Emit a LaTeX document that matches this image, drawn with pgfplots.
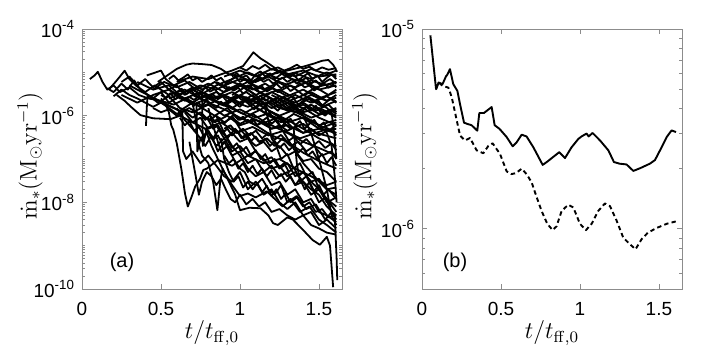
\documentclass[border=0pt]{standalone}
\usepackage[no-math]{fontspec}
\usepackage{pgfplots}
\pgfplotsset{compat=1.18}
\newfontfamily\helv{Liberation Sans}

\pgfplotsset{
  mypanel/.style={
    scale only axis, width=130pt, height=130pt,
    xmin=0, xmax=1.646,
    xtick={0,0.5,1,1.5}, xticklabels={0,0.5,1,1.5},
    tick label style={font=\helv\fontsize{9.5}{11}\selectfont},
    xticklabel style={yshift=-3pt},
    yticklabel style={xshift=0pt},
    axis line style={black!45}, tick style={black!45, line width=0.4pt},
    major tick length=2.5pt, minor tick length=1.5pt,
    label style={font=\fontsize{12}{14}\selectfont},
    xlabel={$t/t_{\mathrm{ff},0}$},
    x label style={at={(axis description cs:0.5,-0.17)}, anchor=center},
    ylabel={$\dot{\mathrm{m}}_{*}(\mathrm{M}_{\odot}\mathrm{yr}^{-1})$},
    cycle list={{black}},
  },
}

\begin{document}
\begin{tikzpicture}

% ---------- (a) ----------
\begin{semilogyaxis}[mypanel, at={(41pt,33pt)}, anchor=south west,
    ymin=1e-10, ymax=1e-4,
    ytick={1e-10,1e-8,1e-6,1e-4},
    yticklabels={10\textsuperscript{-10},10\textsuperscript{-8},10\textsuperscript{-6},10\textsuperscript{-4}},
    minor ytick={2e-10,3e-10,4e-10,5e-10,6e-10,7e-10,8e-10,9e-10,1e-9,2e-9,3e-9,4e-9,5e-9,6e-9,7e-9,8e-9,9e-9,
                 2e-8,3e-8,4e-8,5e-8,6e-8,7e-8,8e-8,9e-8,1e-7,2e-7,3e-7,4e-7,5e-7,6e-7,7e-7,8e-7,9e-7,
                 2e-6,3e-6,4e-6,5e-6,6e-6,7e-6,8e-6,9e-6,1e-5,2e-5,3e-5,4e-5,5e-5,6e-5,7e-5,8e-5,9e-5},
    y label style={at={(axis description cs:-0.2,0.513)}, anchor=center},
    every axis plot post/.append style={black, line width=0.9pt, line join=round},
  ]
\addplot coordinates {(0.05,7e-6)(0.08,8.5e-6)(0.10,1.03e-5)(0.13,6e-6)(0.16,4e-6)(0.20,5e-6)(0.24,3.5e-6)(0.30,4.5e-6)(0.36,3e-6)(0.42,2.5e-6)(0.50,2.2e-6)(0.58,1.8e-6)(0.66,2.5e-6)(0.75,1.6e-6)(0.85,2.2e-6)(0.95,1.5e-6)(1.05,2.5e-6)(1.15,1.8e-6)(1.25,2.8e-6)(1.35,2e-6)(1.45,3e-6)(1.55,2.2e-6)(1.61,2.6e-6)};
\addplot coordinates {(0.17,4e-6)(0.22,6.5e-6)(0.27,1.09e-5)(0.30,7e-6)(0.34,5e-6)(0.40,3.5e-6)(0.46,5e-6)(0.55,3e-6)(0.65,4e-6)(0.75,2.5e-6)(0.85,3.5e-6)(0.95,2.2e-6)(1.05,1.6e-6)(1.15,2.5e-6)(1.25,1.5e-6)(1.35,1.2e-6)(1.45,1.8e-6)(1.55,1.1e-6)(1.61,1.4e-6)};
\addplot coordinates {(0.16,4.3e-6)(0.20,3.5e-6)(0.25,5.5e-6)(0.29,4e-6)(0.33,6.5e-6)(0.37,4e-6)(0.42,3e-6)(0.48,2e-6)(0.55,2.8e-6)(0.62,1.5e-6)(0.70,1.2e-6)(0.80,1.8e-6)(0.90,1e-6)(1.00,1.4e-6)(1.10,9e-7)(1.20,1.2e-6)(1.30,7e-7)(1.40,9e-7)(1.50,6e-7)(1.61,8e-7)};
\addplot coordinates {(0.22,3e-6)(0.27,2.2e-6)(0.31,1.6e-6)(0.37,1.03e-6)(0.45,8.7e-7)(0.56,8.3e-7)(0.62,1e-6)(0.70,7e-7)(0.78,5e-7)(0.88,7e-7)(0.98,4e-7)(1.08,5.5e-7)(1.18,3.5e-7)(1.28,4.5e-7)(1.38,3e-7)(1.48,4e-7)(1.61,3e-7)};
\addplot coordinates {(0.405,5.8e-7)(0.41,1.5e-6)(0.415,3e-6)(0.45,2.5e-6)(0.50,3.5e-6)(0.55,2e-6)(0.62,2.8e-6)(0.70,1.8e-6)(0.80,2.5e-6)(0.90,1.7e-6)(1.00,2.8e-6)(1.10,1.6e-6)(1.20,2.2e-6)(1.30,1.3e-6)(1.40,1.8e-6)(1.50,1.1e-6)(1.61,1.5e-6)};
\addplot coordinates {(0.41,8.5e-6)(0.45,9.5e-6)(0.50,1.1e-5)(0.53,7e-6)(0.58,5e-6)(0.65,6.5e-6)(0.72,4e-6)(0.80,5.5e-6)(0.90,3.5e-6)(1.00,5e-6)(1.10,3e-6)(1.20,4.5e-6)(1.30,2.8e-6)(1.40,4e-6)(1.50,2.5e-6)(1.61,3.5e-6)};
\addplot coordinates {(0.48,6e-6)(0.53,8e-6)(0.60,1.2e-5)(0.66,1.5e-5)(0.70,1.6e-5)(0.76,1.55e-5)(0.82,1.48e-5)(0.88,1.2e-5)(0.93,9e-6)(1.00,8e-6)(1.08,6e-6)(1.18,8e-6)(1.28,5e-6)(1.38,7e-6)(1.48,4.5e-6)(1.61,6e-6)};
\addplot coordinates {(0.60,6e-6)(0.70,8e-6)(0.80,7e-6)(0.88,9e-6)(0.95,1.1e-5)(1.02,1.4e-5)(1.06,2.2e-5)(1.085,2.9e-5)(1.10,2.6e-5)(1.13,2.1e-5)(1.17,1.7e-5)(1.21,1.35e-5)(1.27,9e-6)(1.33,7e-6)(1.40,6e-6)(1.50,4e-6)(1.61,5e-6)};
\addplot coordinates {(0.90,5e-6)(1.00,7e-6)(1.10,6e-6)(1.20,9e-6)(1.30,1.1e-5)(1.40,1.35e-5)(1.47,1.6e-5)(1.52,1.85e-5)(1.56,1.93e-5)(1.59,1.5e-5)(1.615,1.03e-5)};
\addplot coordinates {(0.75,3e-6)(0.85,5e-6)(0.95,7e-6)(1.05,1e-5)(1.15,7e-6)(1.25,1.1e-5)(1.35,8e-6)(1.45,1.2e-5)(1.55,9e-6)(1.61,1.1e-5)};
\addplot coordinates {(0.55,2.5e-6)(0.65,3.5e-6)(0.75,5e-6)(0.85,4e-6)(0.95,6e-6)(1.05,4.5e-6)(1.15,1e-5)(1.25,7e-6)(1.35,9.5e-6)(1.45,7e-6)(1.55,1e-5)(1.61,8e-6)};
\addplot coordinates {(0.50,2.5e-6)(0.53,1.8e-6)(0.55,1.2e-6)(0.565,6e-7)(0.578,4.7e-7)(0.60,2.3e-7)(0.63,5.6e-8)(0.652,1.6e-8)(0.67,8e-9)(0.694,1.35e-8)(0.716,2.3e-8)(0.747,3.5e-8)(0.768,5.6e-8)(0.79,6e-8)(0.86,9.5e-8)(0.95,7e-8)(1.05,1.2e-7)(1.15,8e-8)(1.25,1e-7)(1.35,6e-8)(1.45,4e-8)(1.55,2.5e-8)(1.61,3e-8)};
\addplot coordinates {(0.70,2e-6)(0.72,8e-7)(0.735,2.5e-7)(0.76,1.2e-7)(0.80,8e-8)(0.83,3e-8)(0.857,6.6e-9)(0.875,3e-8)(0.89,6e-8)(0.93,3e-8)(0.97,1.5e-8)(1.00,6.6e-9)(1.06,7.5e-9)(1.13,7.3e-9)(1.18,5e-9)(1.21,3.3e-9)(1.24,3e-9)(1.30,4.5e-9)(1.335,4e-9)(1.40,2.3e-9)(1.46,1.35e-9)(1.506,1.05e-9)(1.55,1.6e-9)(1.57,1e-9)(1.59,1.1e-10)};
\addplot coordinates {(0.78,5e-7)(0.82,2e-7)(0.86,1e-7)(0.90,5e-8)(0.95,2.5e-8)(1.00,1.4e-8)(1.05,1.6e-8)(1.10,1.3e-8)(1.17,1.8e-8)(1.22,1.2e-8)(1.27,8e-9)(1.32,1.2e-8)(1.38,6e-9)(1.44,8e-9)(1.50,4e-9)(1.55,3e-9)(1.61,2e-9)};
\addplot coordinates {(0.85,1e-6)(0.90,4e-7)(0.95,2e-7)(1.00,1.2e-7)(1.05,6e-8)(1.10,4e-8)(1.15,5e-8)(1.20,2.5e-8)(1.25,3e-8)(1.30,1.5e-8)(1.35,2e-8)(1.40,1e-8)(1.45,1.2e-8)(1.50,6e-9)(1.55,5e-9)(1.61,3.5e-9)};
\addplot coordinates {(0.95,1e-6)(1.00,5e-7)(1.05,3e-7)(1.10,1.5e-7)(1.15,1e-7)(1.20,6e-8)(1.25,7e-8)(1.30,4e-8)(1.35,5e-8)(1.40,3e-8)(1.45,2e-8)(1.50,1.5e-8)(1.55,8e-9)(1.61,5e-9)};
\addplot coordinates {(0.60,1.5e-6)(0.65,8e-7)(0.70,5e-7)(0.75,3e-7)(0.80,4e-7)(0.85,2e-7)(0.90,3e-7)(0.95,1.5e-7)(1.00,2e-7)(1.05,1.2e-7)(1.10,1.5e-7)(1.15,9e-8)(1.20,1.1e-7)(1.25,6e-8)(1.30,8e-8)(1.35,4e-8)(1.40,5e-8)(1.45,3e-8)(1.50,2e-8)(1.55,1.2e-8)(1.61,8e-9)};
\addplot coordinates {(0.65,1.2e-6)(0.70,7e-7)(0.75,9e-7)(0.80,5e-7)(0.85,6e-7)(0.90,3e-7)(0.95,4e-7)(1.00,2.5e-7)(1.05,3e-7)(1.10,2e-7)(1.15,2.5e-7)(1.20,1.5e-7)(1.25,2e-7)(1.30,1.2e-7)(1.35,1.5e-7)(1.40,9e-8)(1.45,1e-7)(1.50,6e-8)(1.55,5e-8)(1.61,3e-8)};
\addplot coordinates {(0.80,1.5e-6)(0.83,6e-7)(0.86,2.5e-7)(0.88,1.5e-7)(0.92,2e-7)(0.96,1e-7)(1.00,6e-8)(1.03,5e-8)(1.06,3e-8)(1.10,2.5e-8)(1.14,3.5e-8)(1.18,2e-8)(1.22,1.5e-8)(1.26,2.5e-8)(1.30,1e-8)(1.36,1.4e-8)(1.42,7e-9)(1.48,9e-9)(1.54,4e-9)(1.58,6e-9)(1.60,5e-9)(1.612,5e-10)(1.616,1.6e-10)};
\addplot coordinates {(0.90,2e-6)(1.00,1.2e-6)(1.10,8e-7)(1.20,6e-7)(1.30,4e-7)(1.40,2.5e-7)(1.50,1.8e-7)(1.61,1.2e-7)};
\addplot coordinates {(1.00,3e-6)(1.10,2e-6)(1.20,1.2e-6)(1.30,8e-7)(1.40,5e-7)(1.50,3e-7)(1.61,2e-7)};
\addplot coordinates {(1.10,4e-6)(1.20,2.5e-6)(1.30,1.5e-6)(1.40,1e-6)(1.50,6e-7)(1.61,4e-7)};
\addplot coordinates {(0.70,3e-6)(0.80,2e-6)(0.90,1.4e-6)(1.00,9e-7)(1.10,6e-7)(1.20,3.5e-7)(1.30,2.5e-7)(1.40,1.4e-7)(1.50,9e-8)(1.61,6e-8)};
\addplot coordinates {(1.20,3e-6)(1.30,2e-6)(1.40,1.5e-6)(1.50,9e-7)(1.61,6e-7)};
\addplot coordinates {(1.30,2e-6)(1.40,1e-6)(1.45,4e-7)(1.50,1e-7)(1.55,2e-8)(1.58,5e-9)(1.61,3e-9)};
\addplot coordinates {(0.25,3e-6)(0.35,2e-6)(0.45,3e-6)(0.55,4e-6)(0.65,2.5e-6)(0.75,3.5e-6)(0.85,2.5e-6)(0.95,3.5e-6)(1.05,2.2e-6)(1.15,3e-6)(1.25,2e-6)(1.35,3e-6)(1.45,2e-6)(1.55,2.8e-6)(1.61,2e-6)};
\addplot coordinates {(0.30,5e-6)(0.38,3.5e-6)(0.46,2.5e-6)(0.54,1.8e-6)(0.62,1.3e-6)(0.70,2e-6)(0.78,3e-6)(0.86,2e-6)(0.94,1.5e-6)(1.02,1.1e-6)(1.10,1.6e-6)(1.18,1e-6)(1.26,7e-7)(1.34,1.1e-6)(1.42,8e-7)(1.50,5e-7)(1.61,7e-7)};
\addplot coordinates {(0.35,6e-6)(0.45,4e-6)(0.52,6e-6)(0.60,4.5e-6)(0.68,6e-6)(0.76,4e-6)(0.84,6e-6)(0.92,4e-6)(1.00,5.5e-6)(1.08,4e-6)(1.16,5.5e-6)(1.24,3.5e-6)(1.32,5e-6)(1.40,3e-6)(1.48,4.5e-6)(1.56,3e-6)(1.61,4e-6)};
\addplot coordinates {(0.45,4e-6)(0.55,5e-6)(0.62,3e-6)(0.70,4.5e-6)(0.80,3e-6)(0.88,1.8e-6)(0.96,2.5e-6)(1.04,3.5e-6)(1.12,2.2e-6)(1.20,3.5e-6)(1.28,2.5e-6)(1.36,1.7e-6)(1.44,2.5e-6)(1.52,1.6e-6)(1.61,2.2e-6)};
\addplot coordinates {(0.60,3e-6)(0.68,2.2e-6)(0.76,1.5e-6)(0.84,1e-6)(0.92,1.5e-6)(1.00,8e-7)(1.08,1.1e-6)(1.16,7e-7)(1.24,9e-7)(1.32,5e-7)(1.40,6.5e-7)(1.48,4e-7)(1.56,5e-7)(1.61,3.5e-7)};
\addplot coordinates {(0.85,6e-6)(0.95,4e-6)(1.05,6e-6)(1.15,4e-6)(1.25,6e-6)(1.35,4.5e-6)(1.45,6.5e-6)(1.55,5e-6)(1.61,6e-6)};
\addplot coordinates {(0.95,3e-6)(1.05,5e-6)(1.15,3e-6)(1.25,4e-6)(1.35,2.5e-6)(1.45,3.5e-6)(1.55,2.2e-6)(1.61,3e-6)};
\addplot coordinates {(1.00,2e-6)(1.08,3e-6)(1.16,1.8e-6)(1.24,2.5e-6)(1.32,1.5e-6)(1.40,2e-6)(1.48,1.3e-6)(1.56,1.8e-6)(1.61,1.2e-6)};
\addplot coordinates {(1.05,1e-6)(1.15,1.5e-6)(1.25,1e-6)(1.35,1.4e-6)(1.45,9e-7)(1.55,1.2e-6)(1.61,9e-7)};
\addplot coordinates {(0.50,2e-6)(0.58,1.5e-6)(0.635,1.2e-6)(0.64,1.5e-7)(0.66,1e-7)(0.70,1.5e-7)(0.75,8e-8)(0.80,1.2e-7)(0.85,7e-8)(0.90,4e-8)(0.95,3e-8)(1.00,5e-8)(1.05,2e-8)(1.10,3e-8)(1.15,1.5e-8)(1.20,2e-8)(1.25,1e-8)(1.30,7e-9)(1.35,1e-8)(1.40,5e-9)(1.45,6e-9)(1.50,3e-9)(1.55,4e-9)(1.61,2.5e-9)};
\addplot coordinates {(0.55,4e-6)(0.62,2.5e-6)(0.70,2e-6)(0.725,1.8e-6)(0.73,1.5e-7)(0.75,3e-7)(0.78,2e-7)(0.82,3.5e-7)(0.86,1.5e-7)(0.90,2.5e-7)(0.95,1.2e-7)(1.00,1.5e-7)(1.05,8e-8)(1.10,1e-7)(1.15,5e-8)(1.20,7e-8)(1.25,4e-8)(1.30,5e-8)(1.35,2.5e-8)(1.40,3e-8)(1.45,1.5e-8)(1.50,2e-8)(1.55,1e-8)(1.61,1.3e-8)};
\addplot coordinates {(0.70,4e-6)(0.76,3e-6)(0.765,2e-7)(0.79,5e-7)(0.83,3e-7)(0.87,5e-7)(0.92,3e-7)(0.97,5e-7)(1.02,3e-7)(1.07,4e-7)(1.12,2.5e-7)(1.17,3e-7)(1.22,2e-7)(1.27,3e-7)(1.32,2e-7)(1.37,2.5e-7)(1.42,1.5e-7)(1.47,2e-7)(1.52,1.2e-7)(1.58,1.5e-7)(1.61,1e-7)};
\addplot coordinates {(1.15,2e-6)(1.20,1e-6)(1.25,6e-7)(1.30,3e-7)(1.35,1.5e-7)(1.40,8e-8)(1.45,5e-8)(1.50,3e-8)(1.55,2e-8)(1.61,1.5e-8)};
\addplot coordinates {(0.90,8e-6)(1.00,1.1e-5)(1.10,8e-6)(1.20,1.2e-5)(1.30,9e-6)(1.40,1.1e-5)(1.50,8e-6)(1.61,9e-6)};
\addplot coordinates {(0.25,6e-6)(0.30,8e-6)(0.35,5e-6)(0.40,7e-6)(0.45,4.5e-6)(0.50,6e-6)(0.55,4e-6)(0.60,5e-6)(0.65,3e-6)(0.70,4e-6)(0.80,2.5e-6)(0.90,3e-6)(1.00,2e-6)(1.10,2.5e-6)(1.20,1.5e-6)(1.30,2e-6)(1.40,1.2e-6)(1.50,1.5e-6)(1.61,1e-6)};
\addplot coordinates {(0.20,2.8e-6)(0.25,4e-6)(0.30,3e-6)(0.35,2.5e-6)(0.40,2e-6)(0.45,1.6e-6)(0.50,2e-6)(0.55,1.5e-6)(0.60,1.1e-6)(0.68,1.5e-6)(0.76,1e-6)(0.84,7e-7)(0.92,1e-6)(1.00,6e-7)(1.10,8e-7)(1.20,5e-7)(1.30,6e-7)(1.40,4e-7)(1.50,5e-7)(1.61,4e-7)};
% denser, more wiggly tracks in the main band
\addplot coordinates {(0.60,3.5e-6)(0.63,4.2e-6)(0.66,3.1e-6)(0.69,3.8e-6)(0.72,2.9e-6)(0.75,3.3e-6)(0.78,4.5e-6)(0.81,3.6e-6)(0.84,4.1e-6)(0.87,3e-6)(0.90,3.5e-6)(0.93,4.6e-6)(0.96,3.8e-6)(0.99,4.4e-6)(1.02,3.2e-6)(1.05,3.9e-6)(1.08,5.2e-6)(1.11,4.1e-6)(1.14,4.7e-6)(1.17,3.6e-6)(1.20,4.2e-6)(1.23,5.5e-6)(1.26,4.3e-6)(1.29,4.9e-6)(1.32,3.7e-6)(1.35,4.4e-6)(1.38,5.6e-6)(1.41,4.5e-6)(1.44,5e-6)(1.47,3.8e-6)(1.50,4.6e-6)(1.53,5.8e-6)(1.56,4.4e-6)(1.59,5.2e-6)(1.61,4.5e-6)};
\addplot coordinates {(0.70,1.6e-6)(0.73,2e-6)(0.76,1.7e-6)(0.79,2.3e-6)(0.82,1.8e-6)(0.85,1.5e-6)(0.88,2.1e-6)(0.91,1.7e-6)(0.94,2.4e-6)(0.97,1.9e-6)(1.00,1.6e-6)(1.03,2.2e-6)(1.06,1.8e-6)(1.09,1.4e-6)(1.12,1.9e-6)(1.15,1.5e-6)(1.18,2e-6)(1.21,1.6e-6)(1.24,1.3e-6)(1.27,1.8e-6)(1.30,1.4e-6)(1.33,1.9e-6)(1.36,1.5e-6)(1.39,1.2e-6)(1.42,1.6e-6)(1.45,1.3e-6)(1.48,1.7e-6)(1.51,1.2e-6)(1.54,1e-6)(1.57,1.4e-6)(1.61,1.1e-6)};
\addplot coordinates {(0.75,1.1e-6)(0.78,8e-7)(0.81,1e-6)(0.84,7.5e-7)(0.87,9e-7)(0.90,6.5e-7)(0.93,8.5e-7)(0.96,1.05e-6)(0.99,8e-7)(1.02,9.5e-7)(1.05,7e-7)(1.08,8.5e-7)(1.11,6e-7)(1.14,7.5e-7)(1.17,9e-7)(1.20,6.5e-7)(1.23,8e-7)(1.26,5.5e-7)(1.29,7e-7)(1.32,8.5e-7)(1.35,6e-7)(1.38,7.5e-7)(1.41,5e-7)(1.44,6.5e-7)(1.47,8e-7)(1.50,5.5e-7)(1.53,7e-7)(1.56,4.5e-7)(1.61,6e-7)};
\addplot coordinates {(0.95,8e-6)(0.98,9.5e-6)(1.01,7.5e-6)(1.04,8.5e-6)(1.07,6.5e-6)(1.10,9e-6)(1.13,1.05e-5)(1.16,8e-6)(1.19,9.5e-6)(1.22,7e-6)(1.25,8.5e-6)(1.28,1e-5)(1.31,7.5e-6)(1.34,9e-6)(1.37,6.5e-6)(1.40,8e-6)(1.43,9.5e-6)(1.46,7e-6)(1.49,8.5e-6)(1.52,6e-6)(1.55,7.5e-6)(1.58,9e-6)(1.61,7e-6)};
\addplot coordinates {(0.50,3e-6)(0.53,2.6e-6)(0.56,3.3e-6)(0.59,2.4e-6)(0.62,2.8e-6)(0.65,2.2e-6)(0.68,2.7e-6)(0.71,2.3e-6)(0.74,2.9e-6)(0.77,2.2e-6)(0.80,2.6e-6)(0.83,3.1e-6)(0.86,2.4e-6)(0.89,2.8e-6)(0.92,2.1e-6)(0.95,2.6e-6)(0.98,3e-6)(1.01,2.3e-6)(1.04,2.7e-6)(1.07,2e-6)(1.10,2.4e-6)(1.13,2.9e-6)(1.16,2.2e-6)(1.19,2.6e-6)(1.22,1.9e-6)(1.25,2.3e-6)(1.28,2.8e-6)(1.31,2.1e-6)(1.34,2.5e-6)(1.37,1.8e-6)(1.40,2.2e-6)(1.43,2.7e-6)(1.46,2e-6)(1.49,2.4e-6)(1.52,1.7e-6)(1.55,2.1e-6)(1.58,2.6e-6)(1.61,2e-6)};
\addplot coordinates {(0.80,8e-7)(0.83,5e-7)(0.86,6e-7)(0.89,4e-7)(0.92,5e-7)(0.95,3.5e-7)(0.98,4.5e-7)(1.01,3e-7)(1.04,3.8e-7)(1.07,2.6e-7)(1.10,3.3e-7)(1.13,2.3e-7)(1.16,2.9e-7)(1.19,2e-7)(1.22,2.6e-7)(1.25,1.8e-7)(1.28,2.3e-7)(1.31,1.6e-7)(1.34,2e-7)(1.37,1.4e-7)(1.40,1.8e-7)(1.43,1.2e-7)(1.46,1.5e-7)(1.49,1e-7)(1.52,1.3e-7)(1.55,8e-8)(1.58,1.1e-7)(1.61,7e-8)};
\addplot coordinates {(0.90,1.2e-7)(0.93,8e-8)(0.96,1e-7)(0.99,6e-8)(1.02,8e-8)(1.05,5e-8)(1.08,7e-8)(1.11,4.5e-8)(1.14,6e-8)(1.17,4e-8)(1.20,5.5e-8)(1.23,3.5e-8)(1.26,4.5e-8)(1.29,3e-8)(1.32,4e-8)(1.35,2.5e-8)(1.38,3.5e-8)(1.41,2e-8)(1.44,3e-8)(1.47,1.8e-8)(1.50,2.5e-8)(1.53,1.5e-8)(1.56,2e-8)(1.61,1.2e-8)};
\addplot coordinates {(1.00,5e-6)(1.05,4e-6)(1.10,3e-6)(1.15,2e-6)(1.18,8e-7)(1.20,3e-7)(1.23,2e-7)(1.26,1e-7)(1.30,1.3e-7)(1.34,6e-8)(1.38,8e-8)(1.42,4e-8)(1.46,5e-8)(1.50,2e-8)(1.55,1.2e-8)(1.61,6e-9)};
\addplot coordinates {(1.10,1.5e-6)(1.20,1e-6)(1.30,7e-7)(1.34,5e-7)(1.36,8e-8)(1.38,3e-8)(1.42,4e-8)(1.46,2e-8)(1.50,1e-8)(1.54,1.3e-8)(1.58,6e-9)(1.61,4e-9)};
\addplot coordinates {(0.55,7e-6)(0.58,8.5e-6)(0.61,6.5e-6)(0.64,7.5e-6)(0.67,9e-6)(0.70,6.5e-6)(0.73,7.5e-6)(0.76,6e-6)(0.79,7e-6)(0.82,8.5e-6)(0.85,6.5e-6)(0.88,7.5e-6)(0.91,5.5e-6)(0.94,6.5e-6)(0.97,8e-6)(1.00,6e-6)(1.03,7e-6)(1.06,5.5e-6)(1.09,6.5e-6)(1.12,7.5e-6)(1.15,6e-6)(1.18,7e-6)(1.21,5.5e-6)(1.24,6.5e-6)(1.27,7.5e-6)(1.30,6e-6)(1.33,7e-6)(1.36,5.5e-6)(1.39,6.5e-6)(1.42,7.5e-6)(1.45,5.5e-6)(1.48,6.5e-6)(1.51,5e-6)(1.54,6e-6)(1.57,7e-6)(1.61,5.5e-6)};
\addplot coordinates {(1.00,1.3e-5)(1.04,1.1e-5)(1.08,1.4e-5)(1.12,1.2e-5)(1.16,1.5e-5)(1.20,1.15e-5)(1.24,1.3e-5)(1.28,1.1e-5)(1.32,1.25e-5)(1.36,1.5e-5)(1.40,1.2e-5)(1.44,1.35e-5)(1.48,1.1e-5)(1.52,1.3e-5)(1.56,1.15e-5)(1.61,1.25e-5)};
\addplot coordinates {(0.90,5e-7)(0.94,6e-7)(0.98,4e-7)(1.02,5e-7)(1.06,3.5e-7)(1.10,4.5e-7)(1.14,3e-7)(1.18,4e-7)(1.22,2.8e-7)(1.26,3.6e-7)(1.30,2.5e-7)(1.34,3.2e-7)(1.38,2.2e-7)(1.42,2.9e-7)(1.46,2e-7)(1.50,2.6e-7)(1.54,1.8e-7)(1.58,2.3e-7)(1.61,1.6e-7)};
\addplot coordinates {(0.88,3e-7)(0.90,1e-7)(0.93,5e-8)(0.96,3e-8)(0.99,4e-8)(1.02,2.2e-8)(1.05,3e-8)(1.08,2e-8)(1.11,2.8e-8)(1.14,1.7e-8)(1.17,2.4e-8)(1.20,1.4e-8)(1.23,2e-8)(1.26,1.2e-8)(1.29,1.6e-8)(1.32,1e-8)(1.36,1.3e-8)(1.40,8e-9)(1.44,1e-8)(1.48,6e-9)(1.52,7e-9)(1.56,4.5e-9)(1.61,5e-9)};
\addplot coordinates {(1.40,3e-6)(1.45,2.5e-6)(1.50,2e-6)(1.55,1.5e-6)(1.58,1.2e-6)(1.60,3e-7)(1.61,1e-7)};
\addplot coordinates {(1.45,8e-7)(1.50,6e-7)(1.55,4e-7)(1.58,2e-7)(1.60,4e-8)(1.612,1e-8)};
\addplot coordinates {(0.62,9e-7)(0.65,6e-7)(0.68,7.5e-7)(0.71,4.5e-7)(0.74,5.5e-7)(0.77,3.5e-7)(0.80,4.5e-7)(0.83,2.8e-7)(0.86,3.5e-7)(0.89,2.2e-7)(0.92,2.8e-7)(0.95,1.8e-7)(0.98,2.3e-7)(1.01,1.5e-7)(1.04,1.9e-7)(1.07,1.2e-7)(1.10,1.6e-7)(1.13,1e-7)(1.16,1.3e-7)(1.19,8e-8)(1.22,1e-7)(1.25,6.5e-8)(1.28,8e-8)(1.31,5e-8)(1.34,6.5e-8)(1.37,4e-8)(1.40,5e-8)(1.45,3e-8)(1.50,3.5e-8)(1.55,2e-8)(1.61,2.2e-8)};
\addplot coordinates {(0.68,2.5e-7)(0.70,1e-7)(0.72,4e-8)(0.74,1.5e-8)(0.76,3e-8)(0.79,5e-8)(0.82,4e-8)(0.85,2.5e-8)(0.88,3.5e-8)(0.91,2e-8)(0.94,1.2e-8)(0.97,1e-8)(1.00,1.5e-8)(1.04,9e-9)(1.08,1.2e-8)(1.12,8e-9)(1.16,1e-8)(1.20,6e-9)(1.25,7e-9)(1.30,5e-9)(1.35,4e-9)(1.40,5e-9)(1.45,3e-9)(1.50,2.5e-9)(1.55,2e-9)(1.61,1.8e-9)};
\addplot coordinates {(0.45,1.5e-6)(0.50,1.2e-6)(0.55,1.4e-6)(0.60,1e-6)(0.65,1.3e-6)(0.70,9e-7)(0.75,1.2e-6)(0.80,8e-7)(0.85,1e-6)(0.90,7e-7)(0.95,9e-7)(1.00,6.5e-7)(1.05,8e-7)(1.10,6e-7)(1.15,7e-7)(1.20,5e-7)(1.25,6e-7)(1.30,4.5e-7)(1.35,5.5e-7)(1.40,4e-7)(1.45,5e-7)(1.50,3.5e-7)(1.55,4.5e-7)(1.61,5e-7)};
\node[font=\helv\fontsize{10}{12}\selectfont] at (rel axis cs:0.154,0.104) {(a)};
\end{semilogyaxis}

% ---------- (b) ----------
\begin{semilogyaxis}[mypanel, at={(211pt,33pt)}, anchor=south west,
    ymin=5e-7, ymax=1e-5,
    ytick={1e-6,1e-5},
    yticklabels={10\textsuperscript{-6},10\textsuperscript{-5}},
    minor ytick={6e-7,7e-7,8e-7,9e-7,2e-6,3e-6,4e-6,5e-6,6e-6,7e-6,8e-6,9e-6},
    y label style={at={(axis description cs:-0.22,0.513)}, anchor=center},
    every axis plot post/.append style={black, line width=0.95pt, line join=round},
  ]
\addplot coordinates {(0.053,9.3e-6)(0.089,5.0e-6)(0.105,5.4e-6)(0.13,5.3e-6)(0.152,5.8e-6)(0.16,5.9e-6)(0.177,6.3e-6)(0.198,5.3e-6)(0.224,4.9e-6)(0.241,4.2e-6)(0.266,3.4e-6)(0.283,3.36e-6)(0.314,3.3e-6)(0.35,3.1e-6)(0.363,3.8e-6)(0.392,3.8e-6)(0.441,4.07e-6)(0.46,3.3e-6)(0.49,3.17e-6)(0.536,2.88e-6)(0.574,2.59e-6)(0.599,2.71e-6)(0.631,2.96e-6)(0.662,2.9e-6)(0.705,2.56e-6)(0.764,2.09e-6)(0.79,2.16e-6)(0.869,2.42e-6)(0.905,2.26e-6)(0.947,2.56e-6)(0.99,2.82e-6)(1.01,2.9e-6)(1.042,3.0e-6)(1.055,2.9e-6)(1.08,3.02e-6)(1.127,2.77e-6)(1.18,2.47e-6)(1.215,2.16e-6)(1.25,2.12e-6)(1.295,2.1e-6)(1.338,1.95e-6)(1.38,2.01e-6)(1.443,2.12e-6)(1.475,2.21e-6)(1.517,2.56e-6)(1.549,2.88e-6)(1.58,3.11e-6)(1.608,3.05e-6)};
\addplot[dash pattern=on 2.2pt off 1.6pt] coordinates {(0.089,5.0e-6)(0.105,5.4e-6)(0.13,5.2e-6)(0.167,5.09e-6)(0.188,4.57e-6)(0.22,3.49e-6)(0.241,2.93e-6)(0.272,2.77e-6)(0.304,2.85e-6)(0.346,2.47e-6)(0.388,2.39e-6)(0.42,2.6e-6)(0.447,2.68e-6)(0.494,2.37e-6)(0.536,1.94e-6)(0.566,1.88e-6)(0.594,1.9e-6)(0.631,2.0e-6)(0.662,1.88e-6)(0.694,1.71e-6)(0.726,1.44e-6)(0.757,1.23e-6)(0.793,1.06e-6)(0.827,0.986e-6)(0.852,1.03e-6)(0.884,1.23e-6)(0.926,1.32e-6)(0.958,1.28e-6)(1.0,1.06e-6)(1.038,0.986e-6)(1.074,1.06e-6)(1.116,1.23e-6)(1.158,1.34e-6)(1.19,1.3e-6)(1.232,1.1e-6)(1.274,0.904e-6)(1.316,0.838e-6)(1.352,0.791e-6)(1.39,0.887e-6)(1.43,0.957e-6)(1.485,1.01e-6)(1.549,1.06e-6)(1.608,1.09e-6)};
\node[font=\helv\fontsize{10}{12}\selectfont] at (rel axis cs:0.127,0.104) {(b)};
\end{semilogyaxis}

\pgfresetboundingbox
\useasboundingbox (0,0) rectangle (357pt,177.5pt);
\end{tikzpicture}
\end{document}
